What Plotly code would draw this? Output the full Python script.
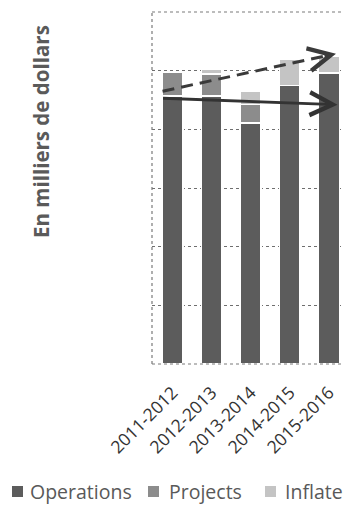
import plotly.graph_objects as go

# ---------------- data ----------------
years = ["2011-2012", "2012-2013", "2013-2014", "2014-2015", "2015-2016"]
operations = [4.57, 4.57, 4.11, 4.75, 4.96]
projects = [0.40, 0.37, 0.31, 0.00, 0.00]
inflated = [0.00, 0.08, 0.23, 0.45, 0.28]
series_names = ["Operations", "Projects", "Inflated"]
# trend arrows (start value, end value), thousands of dollars
inflated_trend = [4.65, 5.29]
actual_trend = [4.53, 4.42]
y_title = "En milliers de dollars"

# ---------------- style ----------------
W, H = 343, 509
L, R, T, B = 152, 0, 12, 145
PW, PH = W - L - R, H - T - B
FONT = "Open Sans"
colors = ["#5c5c5c", "#8c8c8c", "#c4c4c4"]


def px_x(px):
    return (px - L) / PW


def px_y(py):
    return (H - B - py) / PH


fig = go.Figure()
for name, vals, col in zip(series_names, [operations, projects, inflated], colors):
    fig.add_trace(go.Bar(
        x=years, y=vals, name=name, width=0.53,
        marker=dict(color=col, line=dict(color="white", width=1.5)),
        showlegend=False,
    ))

# trend arrows (x in category index units)
x_start, x_end = -0.26, 4.18


def on_line(trend, xv):
    return trend[0] + (trend[1] - trend[0]) * (xv - x_start) / (x_end - x_start)


# dashed inflated trend
fig.add_shape(type="line", xref="x", yref="y",
              x0=x_start, y0=inflated_trend[0],
              x1=x_end - 0.1, y1=on_line(inflated_trend, x_end - 0.1),
              line=dict(color="#3a3a3a", width=3, dash="12px,7px"))
fig.add_annotation(x=x_end, y=inflated_trend[1], xref="x", yref="y",
                   ax=x_end - 0.25, ay=on_line(inflated_trend, x_end - 0.25),
                   axref="x", ayref="y", text="", showarrow=True,
                   font=dict(size=1), borderpad=0,
                   arrowhead=5, arrowsize=1.6, arrowwidth=2.8, arrowcolor="#3a3a3a")
# solid actual trend
fig.add_annotation(x=x_end + 0.04, y=actual_trend[1], xref="x", yref="y",
                   ax=x_start, ay=actual_trend[0], axref="x", ayref="y",
                   text="", showarrow=True, font=dict(size=1), borderpad=0,
                   arrowhead=5, arrowsize=1.6, arrowwidth=2.8, arrowcolor="#333333")

# plot border (dotted)
for (x0, y0, x1, y1) in [(0, 0, 0, 1), (0, 1, 1.05, 1), (0, 0, 1.05, 0)]:
    fig.add_shape(type="line", xref="paper", yref="paper", x0=x0, y0=y0, x1=x1, y1=y1,
                  line=dict(color="#7a7a7a", width=1.2, dash="dot"), layer="above")

# y title
fig.add_annotation(text=y_title, xref="paper", yref="paper",
                   x=px_x(41), y=px_y(132), textangle=-90, showarrow=False,
                   xanchor="center", yanchor="middle",
                   font=dict(family=FONT, size=20.5, color="#5a5a5a", weight="bold"))

# custom legend
legend_sq = [(12, 23), (148, 159), (265, 276)]
legend_tx = [28, 167, 283]
for name, col, (s0, s1), tx in zip(series_names, colors, legend_sq, legend_tx):
    fig.add_shape(type="rect", xref="paper", yref="paper",
                  x0=px_x(s0), x1=px_x(s1), y0=px_y(497), y1=px_y(486),
                  fillcolor=col, line=dict(width=0))
    fig.add_annotation(text=name, xref="paper", yref="paper",
                       x=px_x(tx), y=px_y(491), xanchor="left", yanchor="middle",
                       showarrow=False,
                       font=dict(family=FONT, size=19.5, color="#595959"))

fig.update_layout(
    width=W, height=H,
    margin=dict(l=L, r=R, t=T, b=B, pad=0),
    barmode="stack",
    plot_bgcolor="white", paper_bgcolor="white",
    font=dict(family=FONT, color="#333333"),
)
fig.update_xaxes(type="category", categoryorder="array", categoryarray=years,
                 range=[-0.53, 4.36], tickangle=-45, showgrid=False,
                 showline=False, zeroline=False, ticks="", ticklabelstandoff=14,
                 tickfont=dict(family=FONT, size=17.5, color="#333333"))
fig.update_yaxes(range=[0, 6], dtick=1, showticklabels=False, showgrid=True,
                 gridcolor="#6e6e6e", griddash="dot", gridwidth=1,
                 zeroline=False, showline=False, ticks="")

fig.write_html("out.html")
